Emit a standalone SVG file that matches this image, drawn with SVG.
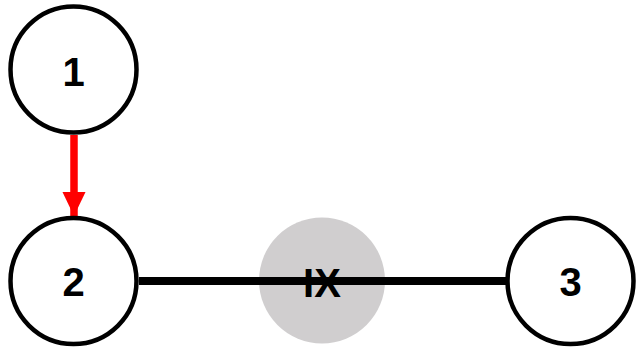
<svg xmlns="http://www.w3.org/2000/svg" width="636" height="350" viewBox="0 0 636 350">
<style>
.node{fill:#fff;stroke:#000;stroke-width:4.5}
.lbl{font-family:"Liberation Sans",Arial,sans-serif;font-weight:bold;font-size:40px;text-anchor:middle;fill:#000}
</style>
<defs>
<marker id="ah" markerUnits="userSpaceOnUse" markerWidth="24" markerHeight="25" refX="25" refY="12" orient="auto" viewBox="0 0 25 24">
<path d="M0,0 L25,12 L0,24 Z" fill="#ff0000"/>
</marker>
</defs>
<rect width="636" height="350" fill="#fff"/>
<g id="nodeIX"><circle cx="322" cy="280.5" r="63" fill="#d0cecf"/></g>
<g id="connectors">
<line x1="139" y1="281" x2="506" y2="281" stroke="#000" stroke-width="8"/>
<line x1="74" y1="135" x2="74" y2="216" stroke="#ff0000" stroke-width="7.5" marker-end="url(#ah)"/>
</g>
<g id="labelIX"><text class="lbl" x="322" y="297">IX</text></g>
<g id="node1"><circle class="node" cx="73.5" cy="69.5" r="63"/><text class="lbl" x="73.5" y="86">1</text></g>
<g id="node2"><circle class="node" cx="73.5" cy="281" r="63"/><text class="lbl" x="73.5" y="296">2</text></g>
<g id="node3"><circle class="node" cx="570.5" cy="281" r="63"/><text class="lbl" x="570.5" y="296">3</text></g>
</svg>
